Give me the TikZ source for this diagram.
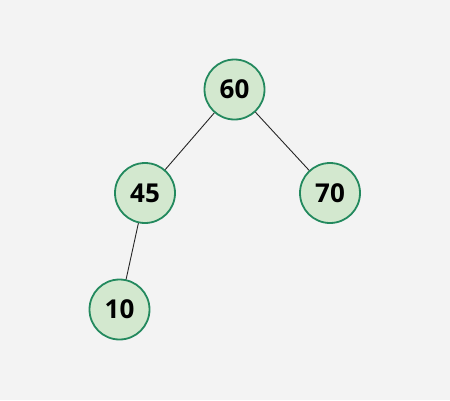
\documentclass[tikz,border=0pt]{standalone}
\usepackage{fontspec}
\setmainfont{Open Sans}
\definecolor{bgc}{HTML}{F3F3F3}
\definecolor{nodefill}{HTML}{D3E8CF}
\definecolor{nodeline}{HTML}{23895E}
\begin{document}
\begin{tikzpicture}[x=1pt,y=-1pt,
  treenode/.style={circle,draw=nodeline,fill=nodefill,line width=1.8pt,minimum size=60pt,inner sep=0pt,font=\fontsize{26}{30}\selectfont\bfseries},
  edge/.style={draw=black!85,line width=0.9pt}]
\fill[bgc] (0,0) rectangle (450,400);
\useasboundingbox (0,0) rectangle (450,400);
\node[treenode] (n60) at (234.5,89.5) {60};
\node[treenode] (n45) at (145,193) {45};
\node[treenode] (n70) at (330,193) {70};
\node[treenode] (n10) at (119.5,309.5) {10};
\draw[edge] (n60) -- (n45);
\draw[edge] (n60) -- (n70);
\draw[edge] (n45) -- (n10);
\end{tikzpicture}
\end{document}
